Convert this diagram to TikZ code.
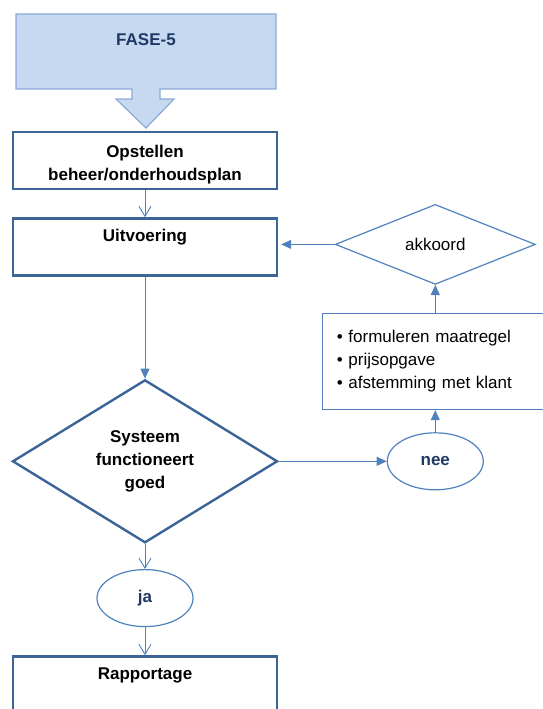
\documentclass[tikz,border=0pt]{standalone}
\usepackage{fontspec}
\setmainfont{Liberation Sans}
\usepackage{xcolor}
\usetikzlibrary{arrows.meta, positioning, shapes.geometric}

\definecolor{boxblue}{HTML}{3C6497}
\definecolor{linkblue}{HTML}{4F81BD}
\definecolor{fasefill}{HTML}{C6D9F1}
\definecolor{faseline}{HTML}{8DAAD6}
\definecolor{navy}{HTML}{1F3864}

\begin{document}
\begin{tikzpicture}[
    x=1pt, y=-1pt,
    font=\fontsize{17}{23}\selectfont,
    node distance=27pt and 108pt,
    stage/.style={draw=boxblue, line width=2.4pt, minimum width=264pt, minimum height=57pt, align=center, font=\fontsize{17}{23}\selectfont\bfseries},
    check/.style={diamond, draw=boxblue, line width=2.4pt, inner sep=0pt, aspect=1.6, minimum width=265pt, minimum height=163pt, align=center, font=\fontsize{17}{23}\selectfont\bfseries},
    answer/.style={ellipse, draw=linkblue, line width=1.2pt, minimum width=96pt, minimum height=57pt, text=navy, font=\fontsize{17}{23}\selectfont\bfseries},
    openarrow/.style={-{Straight Barb[length=10pt,width=12pt]}, linkblue, line width=0.9pt},
    fillarrow/.style={-{Triangle[length=10pt,width=9pt]}, linkblue, line width=1pt}
]
\useasboundingbox (0,0) rectangle (542,709);

% Phase banner
\path[draw=faseline, fill=fasefill, line width=1.2pt] (16,14) -- (276,14) -- (276,89) -- (160,89) -- (160,99) -- (174,99)
    -- (146,128) -- (116,99) -- (132,99) -- (132,89) -- (16,89) -- cycle;
\node[font=\fontsize{17}{23}\selectfont\bfseries, text=navy] (fase) at (146,40) {FASE-5};

% Main column
\node[stage, text height=43pt] (plan) at (145,160.5) {Opstellen\\beheer/onderhoudsplan};
\node[stage, below=of plan] (uitv) {Uitvoering\\\mbox{}};
\node[check, below=102pt of uitv] (sys) {Systeem\\functioneert\\goed};
\node[answer, below=25pt of sys] (ja) {ja};
\node[stage, below=28pt of ja] (rapp) {Rapportage\\\mbox{}};

% Loop back
\node[answer, right=of sys] (nee) {nee};
\node[draw=linkblue, line width=1.2pt, text width=197pt, inner xsep=14pt, minimum height=96pt, align=left, above=22pt of nee] (list)
    {\textbullet\ formuleren maatregel\\\textbullet\ prijsopgave\\\textbullet\ afstemming met klant};
\node[diamond, draw=linkblue, line width=1.2pt, inner sep=0pt, aspect=2.5, minimum width=200pt, minimum height=80pt, above=28pt of list] (akk) {akkoord};

\draw[openarrow] (plan) -- (uitv);
\draw[fillarrow] (uitv) -- (sys);
\draw[fillarrow] (sys.east) -- (sys.east -| nee.west);
\draw[fillarrow] (nee) -- (list);
\draw[fillarrow] (list) -- (akk);
\draw[fillarrow, shorten >=3pt] (akk.west) -- (akk.west -| uitv.east);
\draw[openarrow] (sys) -- (ja);
\draw[openarrow] (ja) -- (rapp);
\end{tikzpicture}
\end{document}
